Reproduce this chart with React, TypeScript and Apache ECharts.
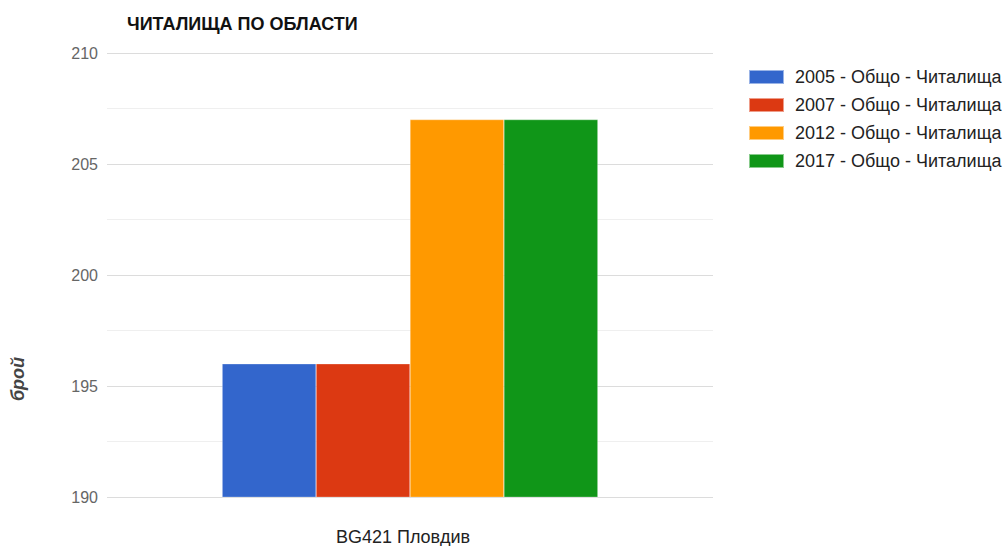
import React, { useEffect, useRef } from "react";
import * as echarts from "echarts";

const categories = ["BG421 Пловдив"];
const seriesNames = [
  "2005 - Общо - Читалища",
  "2007 - Общо - Читалища",
  "2012 - Общо - Читалища",
  "2017 - Общо - Читалища",
];
const seriesValues = [[196], [196], [207], [207]];
const colors = ["#3366cc", "#dc3912", "#ff9900", "#109618"];

const FONT = "Arial, 'Liberation Sans', sans-serif";

export default function App() {
  const ref = useRef<HTMLDivElement>(null);
  useEffect(() => {
    const chart = echarts.init(ref.current!, null, { renderer: "svg" });
    chart.setOption({
      animation: false,
      textStyle: { fontFamily: FONT },
      title: {
        text: "ЧИТАЛИЩА ПО ОБЛАСТИ",
        left: 122,
        top: 10,
        textStyle: { fontSize: 18, fontWeight: "bold", color: "#111", fontFamily: FONT },
      },
      legend: {
        orient: "vertical",
        left: 743,
        top: 63,
        itemWidth: 35,
        itemHeight: 14,
        itemGap: 10,
        icon: "rect",
        textStyle: { fontSize: 18, lineHeight: 18, color: "#222", padding: [0, 0, 0, 6], fontFamily: FONT },
        data: seriesNames,
      },
      grid: { left: 107, right: 293, top: 53, bottom: 48, containLabel: false },
      xAxis: {
        type: "category",
        data: categories,
        axisLine: { show: false },
        axisTick: { show: false },
        axisLabel: { fontSize: 18, color: "#222", margin: 31, padding: [0, 14, 0, 0], fontFamily: FONT },
      },
      yAxis: {
        type: "value",
        min: 190,
        max: 210,
        interval: 5,
        axisLine: { show: false },
        axisTick: { show: false },
        axisLabel: { fontSize: 16, color: "#666", margin: 9, fontFamily: FONT },
        splitLine: { lineStyle: { color: "#dcdcdc", width: 1 } },
        minorTick: { show: false, splitNumber: 2 },
        minorSplitLine: { show: true, lineStyle: { color: "#efefef", width: 1 } },
      },
      graphic: [
        {
          type: "text",
          x: 18,
          y: 379,
          rotation: Math.PI / 2,
          style: {
            text: "брой",
            font: "italic bold 18px Arial, 'Liberation Sans', sans-serif",
            fill: "#444",
            align: "center",
            verticalAlign: "middle",
          },
        },
      ],
      series: seriesNames.map((name, i) => ({
        name,
        type: "bar",
        data: seriesValues[i],
        barGap: "0%",
        barCategoryGap: "38%",
        itemStyle: { color: colors[i], borderColor: "rgba(255,255,255,0.5)", borderWidth: 0.5 },
      })),
    });
    return () => chart.dispose();
  }, []);
  return (
    <div
      ref={ref}
      style={{ position: "fixed", left: 0, top: 0, width: 1006, height: 546, background: "#fff" }}
    />
  );
}
